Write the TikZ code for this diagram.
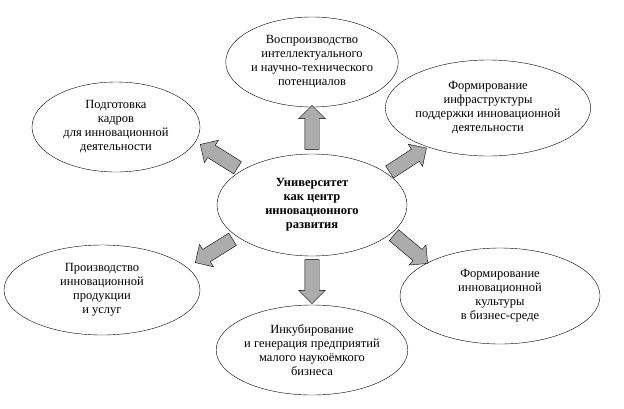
\documentclass[tikz,border=0pt]{standalone}
\usepackage{fontspec}
\setmainfont{Liberation Serif}
\usetikzlibrary{shapes.geometric,shapes.arrows}
\tikzset{
  goal/.style={ellipse,draw,thin,align=center,inner sep=0pt,font=\fontsize{12.5}{14}\selectfont},
  blk/.style={single arrow,draw,thin,fill=gray!65,minimum height=44pt,minimum width=26pt,
    single arrow head extend=6pt,inner sep=7pt,single arrow tip angle=90}
}
\begin{document}
\begin{tikzpicture}[x=1pt,y=-1pt]
  \useasboundingbox (0,0) rectangle (624,408);

  % Nodes
  \node (U)  [goal,minimum width=190,minimum height=102,font=\fontsize{12.5}{14}\selectfont\bfseries] at (312,205)
    {Университет\\как центр\\инновационного\\развития};
  \node (T)  [goal,minimum width=172,minimum height=90] at (312,62)
    {Воспроизводство\\интеллектуального\\и научно-технического\\потенциалов};
  \node (TL) [goal,minimum width=168,minimum height=90] at (116,127)
    {Подготовка\\кадров\\для инновационной\\деятельности};
  \node (TR) [goal,minimum width=188,minimum height=96] at (488,108)
    {Формирование\\инфраструктуры\\поддержки инновационной\\деятельности};
  \node (BL) [goal,minimum width=196,minimum height=90] at (102,290)
    {Производство\\инновационной\\продукции\\и услуг};
  \node (B)  [goal,minimum width=188,minimum height=90] at (312,350)
    {Инкубирование\\и генерация предприятий\\малого наукоёмкого\\бизнеса};
  \node (BR) [goal,minimum width=200,minimum height=96] at (500,296)
    {Формирование\\инновационной\\культуры\\в бизнес-среде};

  % Arrows
  \node (aT)  [blk,rotate=90]  at (312,131) {};
  \node (aTL) [blk,rotate=148] at (222,158) {};
  \node (aTR) [blk,rotate=33]  at (405,162) {};
  \node (aBL) [blk,rotate=212] at (217,249) {};
  \node (aB)  [blk,rotate=270] at (312,278) {};
  \node (aBR) [blk,rotate=-40] at (408,247) {};
\end{tikzpicture}
\end{document}
